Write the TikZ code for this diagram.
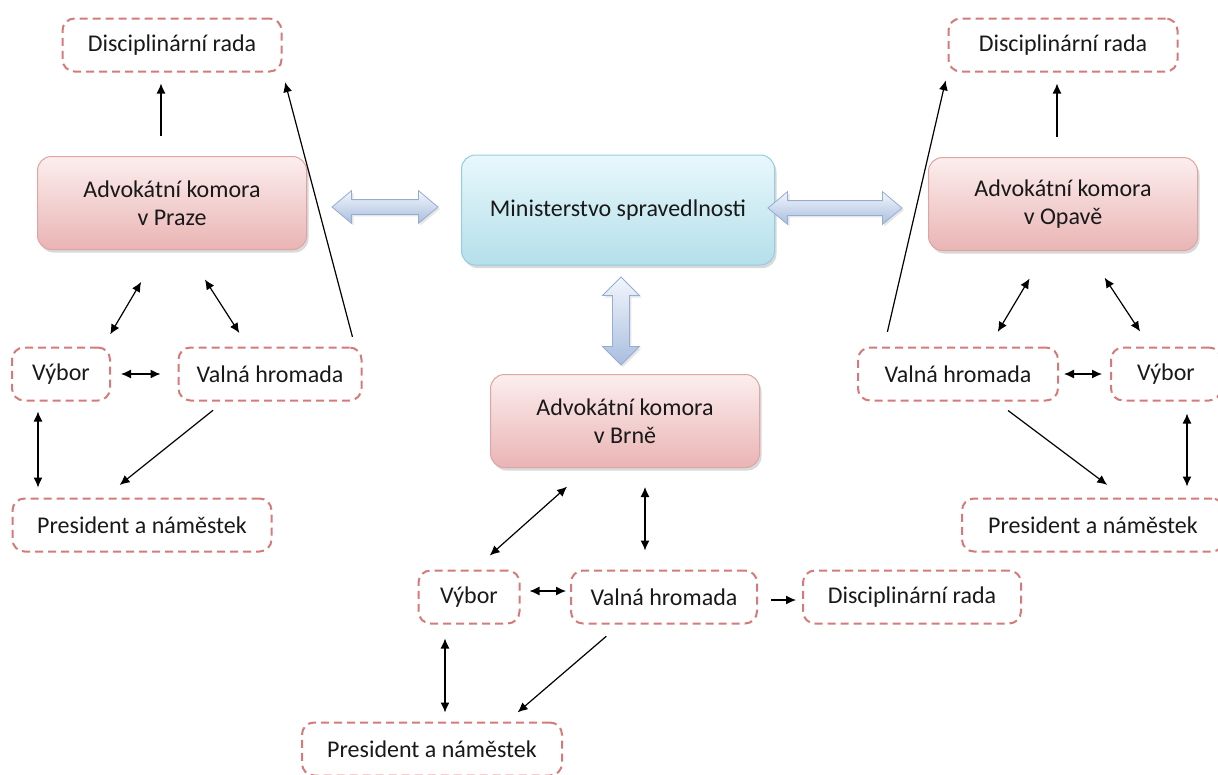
\documentclass[tikz,border=0pt]{standalone}
\usepackage{fontspec}
\setmainfont{Carlito}
\usepackage{tikz}
\usetikzlibrary{positioning}
\usetikzlibrary{arrows.meta}
\usetikzlibrary{shapes}
\usetikzlibrary{shadows}
\definecolor{komoraTop}{RGB}{252,238,238}
\definecolor{komoraBot}{RGB}{234,180,180}
\definecolor{komoraEdge}{RGB}{222,165,165}
\definecolor{minTop}{RGB}{232,248,252}
\definecolor{minBot}{RGB}{180,223,234}
\definecolor{minEdge}{RGB}{150,205,222}
\definecolor{organEdge}{RGB}{212,122,122}
\definecolor{spojkaTop}{RGB}{242,246,252}
\definecolor{spojkaBot}{RGB}{168,190,222}
\definecolor{spojkaEdge}{RGB}{150,172,208}
\tikzstyle{line} = [draw, line width=1.2pt, ->]
\tikzstyle{dline} = [draw, line width=1.2pt, <->]

\begin{document}
\begin{tikzpicture}[x=1pt, y=-1pt, >={Latex[length=10pt,width=9pt]}, font=\fontsize{24}{28}\selectfont]

\tikzstyle{komora} = [rectangle, draw=komoraEdge, line width=1pt, top color=komoraTop, bottom color=komoraBot, rounded corners=14pt, minimum width=269pt, minimum height=93pt, align=center, text=black!90, drop shadow={shadow xshift=2pt, shadow yshift=-3pt, opacity=0.3}]
\tikzstyle{ministerstvo} = [komora, draw=minEdge, top color=minTop, bottom color=minBot, minimum width=313pt, minimum height=110pt]
\tikzstyle{organ} = [rectangle, draw=organEdge, line width=2pt, dash pattern=on 8pt off 5pt, rounded corners=12pt, minimum height=53pt, inner sep=0pt, text=black!90]
\tikzstyle{spojka} = [double arrow, draw=spojkaEdge, line width=0.8pt, top color=spojkaTop, bottom color=spojkaBot, inner xsep=0pt, inner ysep=7pt, double arrow tip angle=80, double arrow head extend=9pt, drop shadow={shadow xshift=2pt, shadow yshift=-2pt, opacity=0.2}]

\useasboundingbox (0,0) rectangle (1218,774);
\clip (0,0) rectangle (1218,774);

% Place nodes
\node [ministerstvo] (ministerstvo) at (618,210) {Ministerstvo spravedlnosti};
\node [komora] (akPraha) at (172,203) {Advokátní komora\\v Praze};
\node [komora] (akOpava) at (1063,204) {Advokátní komora\\v Opavě};
\node [komora] (akBrno) at (625,421) {Advokátní komora\\v Brně};

\node [organ, minimum width=219pt] (discPraha) at (172,45) {Disciplinární rada};
\node [organ, minimum width=98pt] (vyborPraha) at (61,374) {Výbor};
\node [organ, minimum width=183pt] (valnaPraha) at (270,374) {Valná hromada};
\node [organ, minimum width=259pt] (presPraha) at (142,525) {President a náměstek};

\node [organ, minimum width=229pt] (discOpava) at (1063,45) {Disciplinární rada};
\node [organ, minimum width=200pt] (valnaOpava) at (958,374) {Valná hromada};
\node [organ, minimum width=110pt] (vyborOpava) at (1166,374) {Výbor};
\node [organ, minimum width=262pt] (presOpava) at (1093,525) {President a náměstek};

\node [organ, minimum width=101pt] (vyborBrno) at (469,597) {Výbor};
\node [organ, minimum width=186pt] (valnaBrno) at (664,597) {Valná hromada};
\node [organ, minimum width=218pt] (discBrno) at (912,597) {Disciplinární rada};
\node [organ, minimum width=260pt] (presBrno) at (432,749) {President a náměstek};

\node [spojka, minimum height=106pt, minimum width=32pt] (spojkaPraha) at (385,207) {};
\node [spojka, minimum height=134pt, minimum width=32pt] (spojkaOpava) at (835,208) {};
\node [spojka, shape border rotate=90, minimum height=88pt, minimum width=37pt, inner xsep=8pt, inner ysep=0pt, double arrow head extend=10pt, double arrow tip angle=90] (spojkaBrno) at (621,321) {};

% Praha
\path [line, shorten <=20pt, shorten >=11pt] ([xshift=-11pt]akPraha.north) -- ([xshift=-11pt]discPraha.south);
\path [line, shorten <=10pt, shorten >=10pt] ([xshift=85pt]valnaPraha.north) -- (discPraha.south east);
\path [dline, shorten <=37pt, shorten >=14pt] ([xshift=-12pt]akPraha.south) -- ([xshift=42pt]vyborPraha.north);
\path [dline, shorten <=35pt, shorten >=16pt] ([xshift=14pt]akPraha.south) -- ([xshift=-22pt]valnaPraha.north);
\path [dline, shorten <=10pt, shorten >=17pt] (vyborPraha.east) -- (valnaPraha.west);
\path [dline, shorten <=10pt, shorten >=10pt] ([xshift=-23pt]vyborPraha.south) -- ([xshift=-104pt]presPraha.north);
\path [line, shorten <=14pt, shorten >=20pt] ([xshift=-46pt]valnaPraha.south) -- ([xshift=-38pt]presPraha.north);

% Opava
\path [line, shorten <=20pt, shorten >=11pt] ([xshift=-6pt]akOpava.north) -- ([xshift=-6pt]discOpava.south);
\path [line, shorten <=15pt, shorten >=8pt] ([xshift=-74pt]valnaOpava.north) -- (discOpava.south west);
\path [dline, shorten <=32pt, shorten >=17pt] ([xshift=-17pt]akOpava.south) -- ([xshift=31pt]valnaOpava.north);
\path [dline, shorten <=32pt, shorten >=18pt] ([xshift=24pt]akOpava.south) -- ([xshift=-16pt]vyborOpava.north);
\path [dline, shorten <=5pt, shorten >=8pt] (valnaOpava.east) -- (vyborOpava.west);
\path [line, shorten <=15pt, shorten >=21pt] ([xshift=38pt]valnaOpava.south) -- ([xshift=31pt]presOpava.north);
\path [dline, shorten <=12pt, shorten >=11pt] ([xshift=21pt]vyborOpava.south) -- ([xshift=94pt]presOpava.north);

% Brno
\path [dline, shorten <=28pt, shorten >=21pt] ([xshift=-37pt]akBrno.south) -- ([xshift=5pt]vyborBrno.north);
\path [dline, shorten <=19pt, shorten >=19pt] ([xshift=20pt]akBrno.south) -- ([xshift=-19pt]valnaBrno.north);
\path [dline, shorten <=9pt, shorten >=4pt] ([yshift=6pt]vyborBrno.east) -- ([yshift=6pt]valnaBrno.west);
\path [line, shorten <=13pt, shorten >=6pt] ([yshift=-3pt]valnaBrno.east) -- ([yshift=-3pt]discBrno.west);
\path [dline, shorten <=14pt, shorten >=9pt] ([xshift=-24pt]vyborBrno.south) -- ([xshift=13pt]presBrno.north);
\path [line, shorten <=18pt, shorten >=14pt] ([xshift=-44pt]valnaBrno.south) -- ([xshift=75pt]presBrno.north);

\end{tikzpicture}
\end{document}
